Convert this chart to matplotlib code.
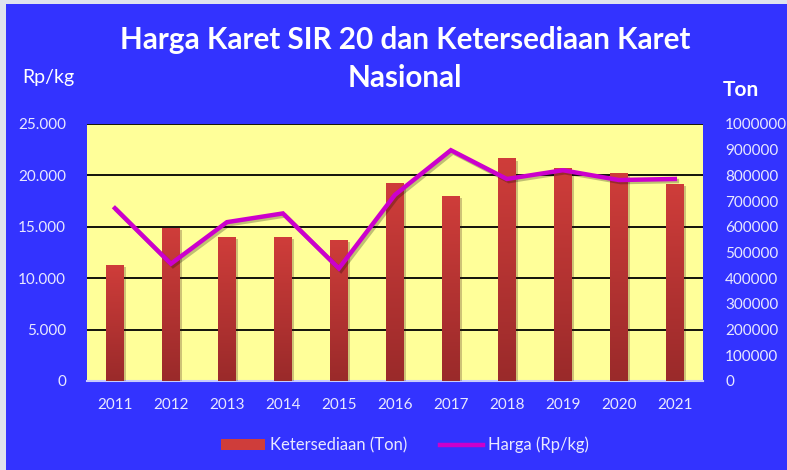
"""Harga Karet SIR 20 vs Ketersediaan Karet Nasional, 2011-2021."""
import matplotlib.pyplot as plt
import matplotlib.patheffects as pe
from matplotlib.patches import Rectangle
import numpy as np

plt.rcParams['font.family'] = ['Lato', 'DejaVu Sans']

BG = "#3333ff"
FRAME = "#dfe4ee"
PLOT_BG = "#ffff99"
TEXT = "#e8e8ff"
BAR_TOP = "#cf3d3a"
BAR_BOTTOM = "#9a2a2a"
LINE_COLOR = "#cc00cc"

YEARS = ["2011", "2012", "2013", "2014", "2015", "2016", "2017", "2018", "2019", "2020", "2021"]
KETERSEDIAAN_TON = [450000, 594000, 560000, 560000, 549000, 769000, 720000, 866000, 828000, 811000, 765000]
HARGA_RP_KG = [16800, 11400, 15450, 16300, 10950, 18100, 22450, 19650, 20500, 19550, 19650]

LEFT_TICKS = [0, 5000, 10000, 15000, 20000, 25000]
LEFT_LABELS = ["0", "5.000", "10.000", "15.000", "20.000", "25.000"]
RIGHT_TICKS = list(range(0, 1000001, 100000))


def main():
    fig = plt.figure(figsize=(7.87, 4.70), dpi=100, facecolor=FRAME)
    fig.patches.append(Rectangle((6 / 787, 0), 1, 1 - 4 / 470,
                                 transform=fig.transFigure, facecolor=BG,
                                 edgecolor="none", zorder=-5))

    ax = fig.add_axes([0.1105, 0.1894, 0.7825, 0.5468])
    ax.set_facecolor(PLOT_BG)
    x = np.arange(len(YEARS))

    # bars (Ton) on the main axes
    bars = ax.bar(x, KETERSEDIAAN_TON, width=0.32, color=BAR_TOP, zorder=3,
                  path_effects=[pe.SimplePatchShadow(offset=(1.5, -1.5), alpha=0.25),
                                pe.Normal()])
    grad = np.linspace(0, 1, 256).reshape(-1, 1)
    cmap = plt.matplotlib.colors.LinearSegmentedColormap.from_list("bar", [BAR_BOTTOM, BAR_TOP])
    for b in bars:
        im = ax.imshow(grad, extent=(b.get_x(), b.get_x() + b.get_width(), 0, b.get_height()),
                       origin="lower", aspect="auto", cmap=cmap, zorder=3.5)
        im.set_clip_path(b)
    ax.set_xlim(-0.5, len(YEARS) - 0.5)
    ax.set_ylim(0, 1000000)
    ax.set_xticks(x)
    ax.set_xticklabels(YEARS)
    for v in range(200000, 1000001, 200000):
        ax.axhline(v, color="black", linewidth=1.3, zorder=1)
    for s in ["top", "left", "right"]:
        ax.spines[s].set_visible(False)
    ax.spines["bottom"].set_color("#c8ccff")
    ax.spines["bottom"].set_linewidth(1.5)

    # line (Rp/kg) on twin axes, ticks on the left
    ax2 = ax.twinx()
    ax2.plot(x, HARGA_RP_KG, color=LINE_COLOR, linewidth=3.2, solid_joinstyle="miter",
             path_effects=[pe.SimpleLineShadow(offset=(1.5, -1.5), alpha=0.25), pe.Normal()])
    ax2.set_ylim(0, 25000)
    ax2.yaxis.tick_left()
    ax2.set_yticks(LEFT_TICKS)
    ax2.set_yticklabels(LEFT_LABELS)
    ax2.tick_params(axis="y", length=0, colors=TEXT, labelsize=11, pad=15)
    for s in ax2.spines.values():
        s.set_visible(False)

    # Ton ticks on the right (after twinx, which resets the sides)
    ax.yaxis.tick_right()
    ax.set_yticks(RIGHT_TICKS)
    ax.set_yticklabels([str(t) for t in RIGHT_TICKS])
    ax.tick_params(axis="both", length=0, colors=TEXT, labelsize=11)
    ax.tick_params(axis="x", pad=12)
    ax.tick_params(axis="y", pad=16)

    fig.text(0.515, 0.915, "Harga Karet SIR 20 dan Ketersediaan Karet", ha="center",
             va="center", color="white", fontsize=21.3, fontweight="bold")
    fig.text(0.515, 0.835, "Nasional", ha="center", va="center", color="white",
             fontsize=21.3, fontweight="bold")
    fig.text(0.062, 0.835, "Rp/kg", ha="center", va="center", color="white", fontsize=14)
    fig.text(0.942, 0.808, "Ton", ha="center", va="center", color="white", fontsize=15,
             fontweight="bold")

    handles = [Rectangle((0, 0), 1, 1, facecolor=BAR_TOP, edgecolor="none"),
               plt.Line2D([0], [0], color=LINE_COLOR, linewidth=3.2)]
    leg = fig.legend(handles, ["Ketersediaan (Ton)", "Harga (Rp/kg)"], loc="center",
                     bbox_to_anchor=(0.515, 0.053), ncol=2, frameon=False, fontsize=12,
                     handlelength=2.6, handletextpad=0.3, columnspacing=2.0)
    for t in leg.get_texts():
        t.set_color(TEXT)

    fig.savefig("out.png", dpi=100, facecolor=FRAME)
    plt.close(fig)


if __name__ == "__main__":
    main()
